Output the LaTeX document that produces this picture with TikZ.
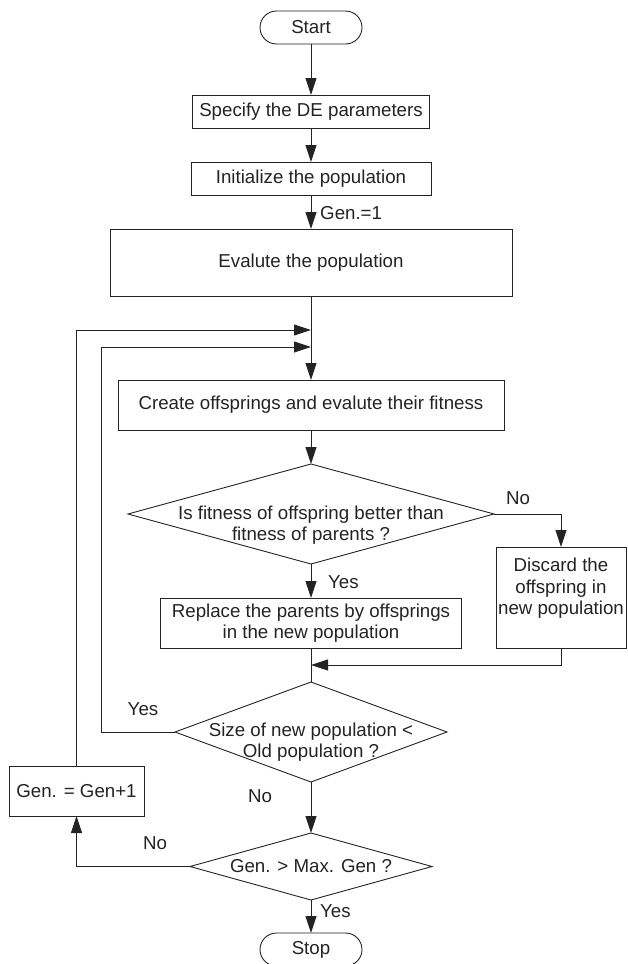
\documentclass[tikz,border=0pt]{standalone}
\usepackage{fontspec}
\setmainfont{Liberation Sans}
\usetikzlibrary{arrows.meta,shapes.geometric}
\definecolor{ink}{RGB}{35,35,35}
\begin{document}
\begin{tikzpicture}[x=1pt,y=-1pt,
  every node/.style={font=\fontsize{18.7}{21.5}\selectfont, text=ink},
  box/.style={draw=ink, line width=0.9pt, rectangle, inner sep=0pt, outer sep=0pt, align=center},
  term/.style={box, rounded corners=16.5pt, minimum width=102pt, minimum height=33pt},
  dia/.style={draw=ink, line width=0.9pt, diamond, inner sep=0pt, outer sep=0pt},
  lbl/.style={inner sep=0pt, align=center},
  flow/.style={draw=ink, line width=0.9pt, -{Triangle[length=17pt,width=11pt]}},
  conn/.style={draw=ink, line width=0.9pt}]
\useasboundingbox (0,0) rectangle (627,964);

\node[term] (start) at (311,27.5) {Start};
\node[box, minimum width=237pt, minimum height=33pt] (spec) at (311,111.5) {Specify the DE parameters};
\node[box, minimum width=240pt, minimum height=33pt] (init) at (311,178.5) {Initialize the population};
\node[box, minimum width=402pt, minimum height=67pt] (eval) at (311,262.5) {Evalute the population};
\node[box, minimum width=386pt, minimum height=50pt] (create) at (311,405) {Create offsprings and evalute their fitness};
\node[dia, minimum width=366pt, minimum height=100pt] (d1) at (311,514) {};
\node[lbl] (d1t) at (311,525) {Is fitness of offspring better than\\fitness of parents ?};
\node[box, minimum width=301pt, minimum height=50pt] (repl) at (311,623) {Replace the parents by offsprings\\in the new population};
\node[box, minimum width=130pt, minimum height=101pt] (disc) at (561,597.5) {};
\node[lbl] (disct) at (561,588.5) {Discard the\\offspring in\\new population};
\node[dia, minimum width=272pt, minimum height=100pt] (d2) at (311,732) {};
\node[lbl] (d2t) at (311,742) {Size of new population <\\Old population ?};
\node[dia, minimum width=242pt, minimum height=67pt] (d3) at (311,866.5) {};
\node[lbl] (d3t) at (311,866.5) {Gen. > Max. Gen ?};
\node[box, minimum width=135pt, minimum height=50pt] (gen) at (76.5,791) {Gen. = Gen+1};
\node[term] (stop) at (311,949.5) {Stop};

\coordinate (in1) at (311,330);
\coordinate (in2) at (311,347);
\coordinate (c2) at (101,347);
\coordinate (m1) at (311,665);

\draw[flow] (start) -- (spec);
\draw[flow] (spec) -- (init);
\draw[flow] (init) -- (eval);
\draw[flow] (eval) -- (create);
\draw[flow] (create) -- (d1);
\draw[flow] (d1) -- (repl);
\draw[flow] (d1.east) -| (disc.north);
\draw[conn] (repl) -- (d2);
\draw[flow] (disc.south) |- (m1);
\draw[flow] (d2.west) -| (c2) -- (in2);
\draw[flow] (gen.north) |- (in1);
\draw[flow] (d2) -- (d3);
\draw[flow] (d3.west) -| (gen.south);
\draw[flow] (d3) -- (stop);

\node[lbl, anchor=west] (l1) at (320,213) {Gen.=1};
\node[lbl] (l2) at (518,498) {No};
\node[lbl, anchor=west] (l3) at (328,582) {Yes};
\node[lbl] (l4) at (143,709) {Yes};
\node[lbl] (l5) at (260,796) {No};
\node[lbl] (l6) at (155,843) {No};
\node[lbl, anchor=west] (l7) at (320,911) {Yes};
\end{tikzpicture}
\end{document}
